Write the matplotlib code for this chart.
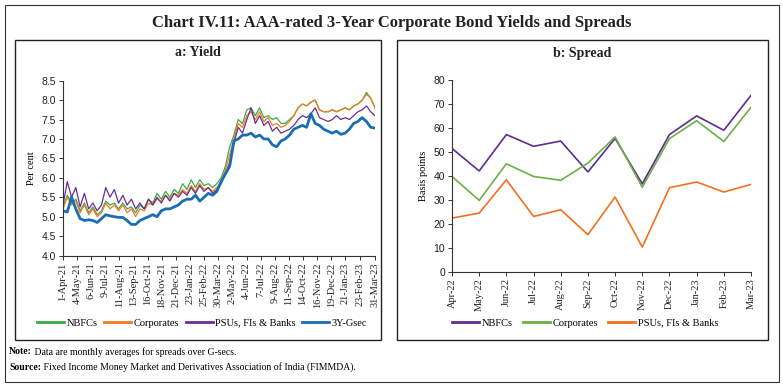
import matplotlib.pyplot as plt
from matplotlib.patches import Rectangle
import pandas as pd

plt.rcParams['font.family'] = ['Liberation Serif', 'DejaVu Serif']

# ---- panel a: daily yields at ~10 day steps ----
yield_dates = pd.date_range('2021-04-01', '2023-03-31', periods=74)

nbfc_yield = [5.25, 5.55, 5.35, 5.45, 5.15, 5.35, 5.10, 5.25, 5.05, 5.15,
              5.40, 5.30, 5.35, 5.20, 5.35, 5.20, 5.25, 5.10, 5.30, 5.20,
              5.45, 5.35, 5.60, 5.45, 5.65, 5.50, 5.70, 5.60, 5.85, 5.70,
              5.95, 5.75, 5.95, 5.80, 5.85, 5.75, 5.85, 6.00, 6.30, 6.80,
              7.10, 7.50, 7.40, 7.75, 7.80, 7.60, 7.80, 7.55, 7.60, 7.50,
              7.55, 7.40, 7.40, 7.50, 7.60, 7.80, 7.90, 7.85, 7.95, 8.00,
              7.75, 7.70, 7.70, 7.75, 7.70, 7.75, 7.80, 7.75, 7.85, 7.90,
              8.00, 8.20, 8.05, 7.80]
corp_yield = [5.20, 5.50, 5.30, 5.40, 5.10, 5.30, 5.05, 5.20, 5.00, 5.10,
              5.35, 5.20, 5.30, 5.15, 5.30, 5.10, 5.20, 5.00, 5.20, 5.15,
              5.35, 5.30, 5.45, 5.40, 5.55, 5.45, 5.60, 5.55, 5.70, 5.60,
              5.80, 5.65, 5.85, 5.70, 5.75, 5.65, 5.75, 5.90, 6.20, 6.60,
              7.00, 7.40, 7.30, 7.60, 7.70, 7.50, 7.70, 7.45, 7.55, 7.35,
              7.40, 7.30, 7.35, 7.45, 7.60, 7.80, 7.90, 7.85, 7.95, 8.00,
              7.75, 7.70, 7.70, 7.75, 7.70, 7.75, 7.80, 7.75, 7.85, 7.90,
              8.00, 8.15, 8.05, 7.80]
psu_yield = [5.30, 5.90, 5.50, 5.75, 5.25, 5.60, 5.20, 5.35, 5.15, 5.30,
             5.75, 5.50, 5.70, 5.35, 5.55, 5.30, 5.45, 5.20, 5.35, 5.20,
             5.45, 5.30, 5.50, 5.35, 5.55, 5.40, 5.60, 5.50, 5.65, 5.55,
             5.75, 5.60, 5.80, 5.65, 5.75, 5.60, 5.70, 5.85, 6.10, 6.40,
             6.90, 7.30, 7.15, 7.50, 7.80, 7.40, 7.60, 7.35, 7.45, 7.20,
             7.30, 7.15, 7.20, 7.25, 7.35, 7.50, 7.60, 7.55, 7.65, 7.80,
             7.55, 7.50, 7.45, 7.50, 7.60, 7.50, 7.55, 7.50, 7.60, 7.70,
             7.75, 7.85, 7.70, 7.60]
gsec_yield = [5.15, 5.12, 5.50, 5.20, 4.95, 4.90, 4.92, 4.90, 4.85, 4.95,
              5.05, 5.02, 5.00, 4.98, 4.98, 4.90, 4.80, 4.80, 4.90, 4.95,
              5.00, 5.05, 5.00, 5.15, 5.20, 5.20, 5.25, 5.30, 5.40, 5.45,
              5.45, 5.55, 5.40, 5.50, 5.60, 5.55, 5.65, 5.90, 6.10, 6.30,
              6.95, 7.00, 7.10, 7.10, 7.15, 7.05, 7.10, 7.00, 7.00, 6.85,
              6.80, 6.95, 7.00, 7.10, 7.25, 7.30, 7.35, 7.30, 7.65, 7.40,
              7.35, 7.25, 7.20, 7.15, 7.20, 7.12, 7.15, 7.25, 7.40, 7.45,
              7.55, 7.45, 7.30, 7.28]

yield_ticks = ['1-Apr-21', '4-May-21', '6-Jun-21', '9-Jul-21', '11-Aug-21',
               '13-Sep-21', '16-Oct-21', '18-Nov-21', '21-Dec-21', '23-Jan-22',
               '25-Feb-22', '30-Mar-22', '2-May-22', '4-Jun-22', '7-Jul-22',
               '9-Aug-22', '11-Sep-22', '14-Oct-22', '16-Nov-22', '19-Dec-22',
               '21-Jan-23', '23-Feb-23', '31-Mar-23']

# ---- panel b: monthly spreads (bps) ----
months = ['Apr-22', 'May-22', 'Jun-22', 'Jul-22', 'Aug-22', 'Sep-22',
          'Oct-22', 'Nov-22', 'Dec-22', 'Jan-23', 'Feb-23', 'Mar-23']
nbfc_spread = [51.4, 42.0, 57.2, 52.3, 54.5, 41.6, 55.6, 36.6, 57.2, 65.0, 59.0, 73.6]
corp_spread = [39.7, 29.7, 45.0, 39.7, 38.1, 45.3, 56.2, 35.2, 55.5, 63.0, 54.3, 68.6]
psu_spread = [22.3, 24.4, 38.3, 23.0, 25.8, 15.4, 31.1, 10.2, 35.0, 37.4, 33.2, 36.4]

W, H = 783, 384


def px_box(x0, y0, x1, y1):
    return [x0 / W, 1 - y1 / H, (x1 - x0) / W, (y1 - y0) / H]


fig = plt.figure(figsize=(W / 100, H / 100), dpi=100)

# frames
fig.add_artist(Rectangle((5 / W, 1 - 382 / H), 774 / W, 377 / H, transform=fig.transFigure,
                         fill=False, ec='#333333', lw=0.8))
fig.add_artist(Rectangle((15 / W, 1 - 340 / H), 366 / W, 300 / H, transform=fig.transFigure,
                         fill=False, ec='#222222', lw=1.0))
fig.add_artist(Rectangle((397 / W, 1 - 340 / H), 371 / W, 300 / H, transform=fig.transFigure,
                         fill=False, ec='#222222', lw=1.0))

fig.text(0.5, 1 - 23 / H, 'Chart IV.11: AAA-rated 3-Year Corporate Bond Yields and Spreads',
         ha='center', va='center', fontsize=12, fontweight='bold', color='#222222')
fig.text(198 / W, 1 - 53 / H, 'a: Yield', ha='center', va='center', fontsize=10,
         fontweight='bold', color='#222222')
fig.text(582 / W, 1 - 53 / H, 'b: Spread', ha='center', va='center', fontsize=10,
         fontweight='bold', color='#222222')

# ---- left axes ----
ax1 = fig.add_axes(px_box(63, 80.7, 375, 255.5))
ax1.plot(yield_dates, nbfc_yield, color='#3aaa47', lw=0.9, label='NBFCs')
ax1.plot(yield_dates, corp_yield, color='#f47b20', lw=0.9, label='Corporates')
ax1.plot(yield_dates, psu_yield, color='#6b2d90', lw=0.9, label='PSUs, FIs & Banks')
ax1.plot(yield_dates, gsec_yield, color='#1b6db3', lw=2.0, label='3Y-Gsec')
ax1.set_xlim(yield_dates[0], yield_dates[-1])
ax1.set_ylim(4.0, 8.5)
ax1.set_yticks([4.0 + 0.5 * i for i in range(10)])
ax1.set_yticklabels([f'{4.0 + 0.5 * i:.1f}' for i in range(10)],
                    fontfamily='Liberation Sans', fontsize=7.5)
tick_dates = pd.to_datetime(yield_ticks, format='%d-%b-%y')
ax1.set_xticks(tick_dates)
ax1.set_xticklabels(yield_ticks, rotation=90, fontsize=7.5)
ax1.set_ylabel('Per cent', fontsize=7.5, labelpad=4)
leg1 = ax1.legend(loc='center', bbox_to_anchor=(0.446, -0.386), ncol=4, frameon=False,
                  fontsize=7.5, handlelength=2.6, columnspacing=0.6, handletextpad=0.25)
for ln in leg1.get_lines():
    ln.set_linewidth(2.0)

# ---- right axes ----
ax2 = fig.add_axes(px_box(452, 80, 751, 271.5))
xs = range(len(months))
ax2.plot(xs, nbfc_spread, color='#5c2d91', lw=1.2, label='NBFCs')
ax2.plot(xs, corp_spread, color='#6cb045', lw=1.2, label='Corporates')
ax2.plot(xs, psu_spread, color='#f36f21', lw=1.2, label='PSUs, FIs & Banks')
ax2.set_xlim(0, len(months) - 1)
ax2.set_ylim(0, 80)
ax2.set_yticks(range(0, 81, 10))
ax2.set_yticklabels([str(v) for v in range(0, 81, 10)], fontfamily='Liberation Sans', fontsize=7.5)
ax2.set_xticks(list(xs))
ax2.set_xticklabels(months, rotation=90, fontsize=7.5)
ax2.set_ylabel('Basis points', fontsize=7.5, labelpad=4)
leg2 = ax2.legend(loc='center', bbox_to_anchor=(0.445, -0.269), ncol=3, frameon=False,
                  fontsize=7.5, handlelength=2.6, columnspacing=1.0, handletextpad=0.25)
for ln in leg2.get_lines():
    ln.set_linewidth(2.0)

for ax in (ax1, ax2):
    for s in ('top', 'right'):
        ax.spines[s].set_visible(False)
    for s in ('left', 'bottom'):
        ax.spines[s].set_color('#333333')
        ax.spines[s].set_linewidth(0.8)
    ax.tick_params(length=3, width=0.7, color='#333333', pad=2, labelcolor='#222222')

# notes
t1 = fig.text(9 / W, 1 - 352 / H, 'Note:', fontsize=7, fontweight='bold', va='center')
ax1.annotate(' Data are monthly averages for spreads over G-secs.', xy=(1, 0.5),
             xycoords=t1, va='center', fontsize=7, annotation_clip=False)
t2 = fig.text(9 / W, 1 - 367 / H, 'Source:', fontsize=7, fontweight='bold', va='center')
ax1.annotate(' Fixed Income Money Market and Derivatives Association of India (FIMMDA).',
             xy=(1, 0.5), xycoords=t2, va='center', fontsize=7, annotation_clip=False)

fig.savefig('out.png', dpi=100)
